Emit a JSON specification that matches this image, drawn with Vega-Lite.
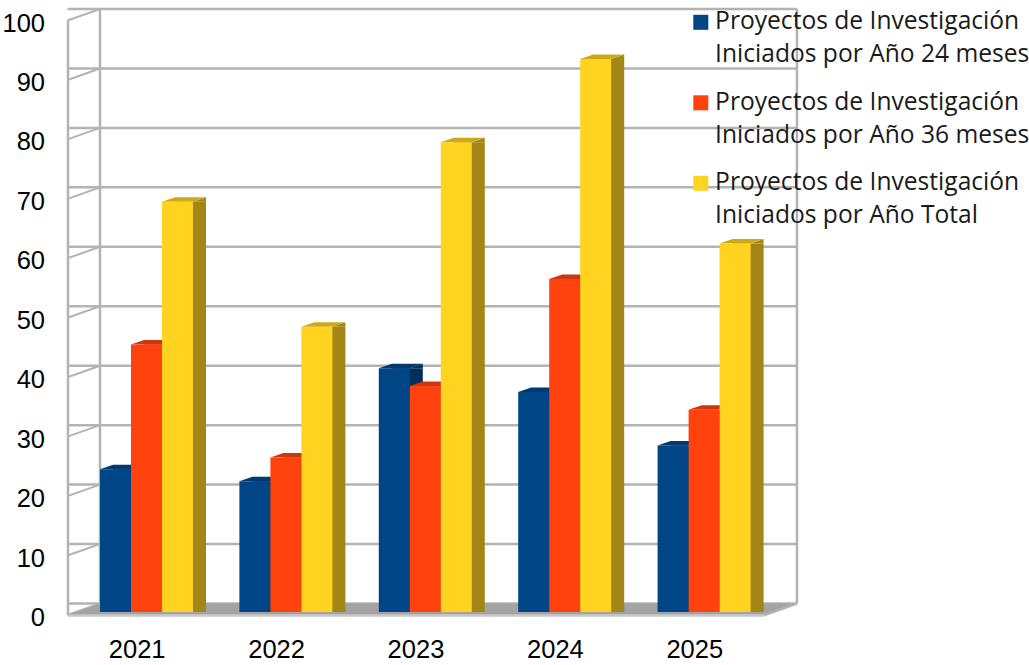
{
"$schema":"https://vega.github.io/schema/vega-lite/v6.json",
"width":697,"height":594.5,
"autosize":{"type":"none"},
"padding":{"left":67.5,"top":20.5,"right":264.5,"bottom":50},
"background":"white",
"config":{"view":{"stroke":null}},
"datasets":{
"rows":[
{"year":"2021","series":"Proyectos de Investigación Iniciados por Año 24 meses","value":24},
{"year":"2021","series":"Proyectos de Investigación Iniciados por Año 36 meses","value":45},
{"year":"2021","series":"Proyectos de Investigación Iniciados por Año Total","value":69},
{"year":"2022","series":"Proyectos de Investigación Iniciados por Año 24 meses","value":22},
{"year":"2022","series":"Proyectos de Investigación Iniciados por Año 36 meses","value":26},
{"year":"2022","series":"Proyectos de Investigación Iniciados por Año Total","value":48},
{"year":"2023","series":"Proyectos de Investigación Iniciados por Año 24 meses","value":41},
{"year":"2023","series":"Proyectos de Investigación Iniciados por Año 36 meses","value":38},
{"year":"2023","series":"Proyectos de Investigación Iniciados por Año Total","value":79},
{"year":"2024","series":"Proyectos de Investigación Iniciados por Año 24 meses","value":37},
{"year":"2024","series":"Proyectos de Investigación Iniciados por Año 36 meses","value":56},
{"year":"2024","series":"Proyectos de Investigación Iniciados por Año Total","value":93},
{"year":"2025","series":"Proyectos de Investigación Iniciados por Año 24 meses","value":28},
{"year":"2025","series":"Proyectos de Investigación Iniciados por Año 36 meses","value":34},
{"year":"2025","series":"Proyectos de Investigación Iniciados por Año Total","value":62}
],
"ticks":[{"tick":0},{"tick":10},{"tick":20},{"tick":30},{"tick":40},{"tick":50},{"tick":60},{"tick":70},{"tick":80},{"tick":90},{"tick":100}]
},
"data":{"name":"rows"},
"resolve":{"scale":{"color":"independent","xOffset":"independent"}},
"layer":[
{"data":{"name":"ticks"},
 "mark":{"type":"rule","color":"#b3b3b3","strokeWidth":2.5,"xOffset":32.5,"x2Offset":32.5,"yOffset":-11.5,"y2Offset":-11.5},
 "encoding":{"y":{"field":"tick","type":"quantitative","scale":{"domain":[0,100],"nice":false},
   "axis":{"title":null,"values":[0,10,20,30,40,50,60,70,80,90,100],"grid":false,"ticks":false,"domain":true,"domainColor":"#b3b3b3","domainWidth":2.5,"labelFontSize":25.5,"labelFont":"Liberation Sans","labelColor":"#000000","labelPadding":23,"labelOffset":2.5}}}},
{"data":{"name":"ticks"},
 "mark":{"type":"point","filled":false,"opacity":1,"size":4,"color":"#b3b3b3","strokeWidth":2,"xOffset":-9.3,"shape":"M-69.7,0L-37.2,-11.5"},
 "encoding":{"x":{"datum":"2021","type":"nominal","scale":{"paddingInner":0.333,"paddingOuter":0.1665,"align":0.7},"sort":null,
   "axis":{"title":null,"labelAngle":0,"ticks":false,"domain":true,"domainColor":"#c8c8c8","domainWidth":2.5,"labelFontSize":25.5,"labelFont":"Liberation Sans","labelColor":"#000000","labelPadding":22,"labelOffset":-9.3,"zindex":1}},
  "y":{"field":"tick","type":"quantitative"}}},
{"data":{"values":[{"wall":"back"}]},
 "mark":{"type":"point","filled":true,"opacity":1,"size":4,"color":"#a3a3a3","strokeWidth":0,"xOffset":-9.3,"shape":"M-69.7,0L627.3,0L659.8,-11.5L-37.2,-11.5Z"},
 "encoding":{"x":{"datum":"2021","type":"nominal"},"y":{"datum":0,"type":"quantitative"}}},
{"data":{"values":[{"wall":"back"}]},
 "mark":{"type":"point","filled":false,"opacity":1,"size":4,"color":"#b3b3b3","strokeWidth":2.5,"xOffset":-9.3,"shape":"M-37.2,-11.5L-37.2,-606M659.8,-11.5L659.8,-606M627.3,0L659.8,-11.5"},
 "encoding":{"x":{"datum":"2021","type":"nominal"},"y":{"datum":0,"type":"quantitative"}}},
{"mark":{"type":"bar","yOffset":-3,"y2Offset":-7.5},
 "encoding":{"x":{"field":"year","type":"nominal","sort":null},
  "xOffset":{"field":"series","type":"nominal","sort":null,"scale":{"type":"band","paddingInner":0,"paddingOuter":0,"range":[13,106]}},
  "y":{"field":"value","type":"quantitative"},
  "color":{"field":"series","type":"nominal","sort":null,"legend":null,"scale":{"range":["#002f5c","#b32e0a","#a38616"]}}}},
{"mark":{"type":"point","filled":true,"opacity":1,"size":4,"strokeWidth":0,"yOffset":-3,"shape":"M15.5,0L28.5,-4.5L28.5,0Z"},
 "encoding":{"x":{"field":"year","type":"nominal","sort":null},
  "xOffset":{"field":"series","type":"nominal","sort":null,"scale":{"type":"band","paddingInner":0,"paddingOuter":0,"range":[0,93]}},
  "y":{"field":"value","type":"quantitative"},
  "color":{"field":"series","type":"nominal","sort":null,"legend":null,"scale":{"range":["#002f5c","#b32e0a","#a38616"]}}}},
{"mark":{"type":"point","filled":true,"opacity":1,"size":4,"strokeWidth":0,"yOffset":-3,"shape":"M15.5,0L28.5,-4.5L15.5,-4.5Z"},
 "encoding":{"x":{"field":"year","type":"nominal","sort":null},
  "xOffset":{"field":"series","type":"nominal","sort":null,"scale":{"type":"band","paddingInner":0,"paddingOuter":0,"range":[0,93]}},
  "y":{"datum":0,"type":"quantitative"},
  "color":{"field":"series","type":"nominal","sort":null,"legend":null,"scale":{"range":["#002f5c","#b32e0a","#a38616"]}}}},
{"mark":{"type":"point","filled":true,"opacity":1,"size":4,"strokeWidth":0,"yOffset":-3,"shape":"M-15.5,0L-2.5,-4.5L28.5,-4.5L15.5,0Z"},
 "encoding":{"x":{"field":"year","type":"nominal","sort":null},
  "xOffset":{"field":"series","type":"nominal","sort":null,"scale":{"type":"band","paddingInner":0,"paddingOuter":0,"range":[0,93]}},
  "y":{"field":"value","type":"quantitative"},
  "color":{"field":"series","type":"nominal","sort":null,"legend":null,"scale":{"range":["#003a70","#cc370c","#cca919"]}}}},
{"mark":{"type":"bar","yOffset":-3,"y2Offset":-3},
 "encoding":{"x":{"field":"year","type":"nominal","sort":null},
  "xOffset":{"field":"series","type":"nominal","sort":null,"scale":{"type":"band","paddingInner":0,"paddingOuter":0,"range":[0,93]}},
  "y":{"field":"value","type":"quantitative"},
  "color":{"field":"series","type":"nominal","sort":null,"scale":{"range":["#004586","#ff420e","#ffd320"]},
   "legend":{"orient":"none","legendX":621,"legendY":-10.5,"title":null,"symbolType":"square","symbolSize":225,"symbolStrokeWidth":0,"symbolOpacity":1,"labelFont":"Open Sans","labelFontSize":24.6,"labelColor":"#1a1a1a","labelLimit":400,"rowPadding":22.5,"labelOffset":2,
    "labelExpr":"split(replace(datum.label,' Iniciados','|Iniciados'),'|')",
    "encode":{"labels":{"update":{"lineHeight":{"value":33}}}}}}}}
]
}
